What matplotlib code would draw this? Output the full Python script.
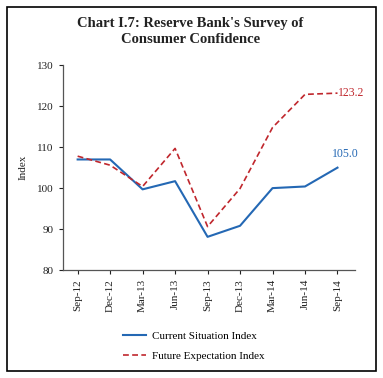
import matplotlib
matplotlib.use('Agg')
import matplotlib.pyplot as plt
from matplotlib.patches import Rectangle

# Data
quarters = ['Sep-12', 'Dec-12', 'Mar-13', 'Jun-13', 'Sep-13', 'Dec-13', 'Mar-14', 'Jun-14', 'Sep-14']
current_index = [107.0, 107.0, 99.7, 101.7, 88.1, 90.8, 100.0, 100.4, 105.0]
future_index = [107.8, 105.6, 100.4, 109.7, 90.6, 99.9, 114.8, 122.9, 123.2]
yticks = [80, 90, 100, 110, 120, 130]

blue = '#2468B4'
red = '#C0272D'
serif = ['Liberation Serif', 'DejaVu Serif']

plt.rcParams['font.family'] = serif

fig = plt.figure(figsize=(3.83, 3.78), dpi=100)

# outer frame
fig.patches.append(Rectangle((7 / 383, 7 / 378), 368.5 / 383, 364 / 378,
                             transform=fig.transFigure, fill=False,
                             edgecolor='black', linewidth=1.2))

fig.text(0.497, 0.955, "Chart I.7: Reserve Bank's Survey of\nConsumer Confidence",
         ha='center', va='top', fontsize=10.5, fontweight='bold',
         linespacing=1.25, color='#222222')

ax = fig.add_axes([62.7 / 383, 1 - 270 / 378, 292 / 383, 204.7 / 378])
x = list(range(len(quarters)))
ax.plot(x, current_index, color=blue, linewidth=1.5, label='Current Situation Index')
ax.plot(x, future_index, color=red, linewidth=1.2, linestyle=(0, (3.5, 2)),
        label='Future Expectation Index')

ax.text(x[-1] + 0.02, future_index[-1], '123.2', color=red, fontsize=8.5,
        va='center', ha='left')
ax.text(x[-1] + 0.25, current_index[-1] + 1.8, '105.0', color=blue, fontsize=8.5,
        va='bottom', ha='center')

ax.set_xlim(-0.46, 8.53)
ax.set_ylim(80, 130)
ax.set_yticks(yticks)
ax.set_xticks(x)
ax.set_xticklabels(quarters, rotation=90)
ax.tick_params(labelsize=8, colors='#222222', length=3, width=0.8)
ax.set_ylabel('Index', fontsize=8, color='#222222', labelpad=7)
for side in ['top', 'right']:
    ax.spines[side].set_visible(False)
for side in ['left', 'bottom']:
    ax.spines[side].set_color('#555555')
    ax.spines[side].set_linewidth(0.9)

ax.legend(loc='upper center', bbox_to_anchor=(0.45, -0.25), frameon=False,
          fontsize=8, handlelength=2.0, handletextpad=0.6, labelspacing=0.95)

fig.savefig('out.png', dpi=100)
